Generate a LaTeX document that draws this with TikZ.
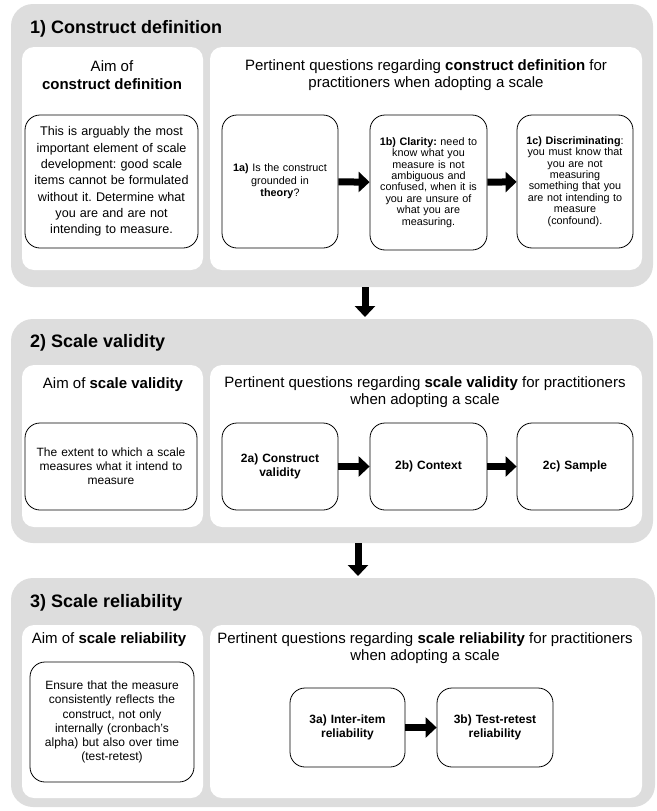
\documentclass[tikz,border=0pt]{standalone}
\usepackage{fontspec}
\setmainfont{Liberation Sans}
\usetikzlibrary{arrows.meta}
\frenchspacing

\tikzstyle{stage}= [rectangle,fill=gray!27,rounded corners=22pt,inner sep=0pt]
\tikzstyle{sheet}= [rectangle,fill=white,rounded corners=12pt,inner sep=0pt]
\tikzstyle{item}= [rectangle,draw,black,line width=0.8pt,rounded corners=15pt,fill=white,align=center,inner sep=0pt]
\tikzstyle{title}= [anchor=west,inner sep=0pt,font=\fontsize{18}{21}\selectfont\bfseries]
\tikzstyle{head}= [align=center,inner sep=0pt,font=\fontsize{15}{17.5}\selectfont]
\tikzstyle{flow}= [black,line width=7pt,-{Triangle[width=20pt,length=11pt]}]

\begin{document}
\begin{tikzpicture}[x=1pt,y=-1pt]
	\useasboundingbox (0,0) rectangle (656,811);

		% 1) construct definition
		\node (s1) at (332,145.5) [stage,minimum width=642pt,minimum height=283pt] {};
		\node (t1) at (30,29) [title] {1) Construct definition};
		\node (l1) at (112.5,158.5) [sheet,minimum width=181pt,minimum height=223pt] {};
		\node (r1) at (426,158.5) [sheet,minimum width=432pt,minimum height=223pt] {};
		\node (hl1) at (112,75) [head] {Aim of\\\textbf{construct definition}};
		\node (hr1) at (426,75) [head] {Pertinent questions regarding \textbf{construct definition} for\\practitioners when adopting a scale};

		\node (aim1) at (111.5,181.5) [item,text width=173pt,minimum height=133pt,font=\fontsize{12.6}{16.3}\selectfont] {This is arguably the most\\important element of scale\\development: good scale\\items cannot be formulated\\without it. Determine what\\you are and are not\\intending to measure.};
		\node (a) at (280,181.5) [item,text width=116pt,minimum height=133pt,font=\fontsize{10.8}{12.5}\selectfont] {\textbf{1a)} Is the construct\\grounded in\\\textbf{theory}?};
		\node (b) at (428.5,182.5) [item,text width=117pt,minimum height=135pt,font=\fontsize{10.8}{11.4}\selectfont] {\textbf{1b) Clarity:} need to\\know what you\\measure is not\\ambiguous and\\confused, when it is\\you are unsure of\\what you are\\measuring.};
		\node (c) at (575,181.5) [item,text width=116pt,minimum height=133pt,font=\fontsize{10.8}{11.4}\selectfont] {\textbf{1c) Discriminating}:\\you must know that\\you are not\\measuring\\something that you\\are not intending to\\measure\\(confound).};

		% 2) scale validity
		\node (s2) at (332,431) [stage,minimum width=642pt,minimum height=224pt] {};
		\node (t2) at (30,343) [title] {2) Scale validity};
		\node (l2) at (112.5,446) [sheet,minimum width=181pt,minimum height=162pt] {};
		\node (r2) at (426,446) [sheet,minimum width=432pt,minimum height=162pt] {};
		\node (hl2) at (113,385) [head] {Aim of \textbf{scale validity}};
		\node (hr2) at (425,392) [head] {Pertinent questions regarding \textbf{scale validity} for practitioners\\when adopting a scale};

		\node (aim2) at (111,466.5) [item,text width=172pt,minimum height=87pt,font=\fontsize{12}{14}\selectfont] {The extent to which a scale\\measures what it intend to\\measure};
		\node (d) at (280,466.5) [item,text width=116pt,minimum height=87pt,font=\fontsize{12}{14.3}\selectfont\bfseries] {2a) Construct\\validity};
		\node (e) at (428.5,466.5) [item,text width=117pt,minimum height=87pt,font=\fontsize{12}{14.3}\selectfont\bfseries] {2b) Context};
		\node (f) at (575,466.5) [item,text width=116pt,minimum height=87pt,font=\fontsize{12}{14.3}\selectfont\bfseries] {2c) Sample};

		% 3) scale reliability
		\node (s3) at (333,692.5) [stage,minimum width=644pt,minimum height=229pt] {};
		\node (t3) at (30,603) [title] {3) Scale reliability};
		\node (l3) at (112.5,711.5) [sheet,minimum width=181pt,minimum height=173pt] {};
		\node (r3) at (426,711.5) [sheet,minimum width=432pt,minimum height=173pt] {};
		\node (hl3) at (109,640) [head] {Aim of \textbf{scale reliability}};
		\node (hr3) at (425,648) [head] {Pertinent questions regarding \textbf{scale reliability} for practitioners\\when adopting a scale};

		\node (aim3) at (112,722) [item,text width=164pt,minimum height=120pt,font=\fontsize{12}{14.2}\selectfont] {Ensure that the measure\\consistently reflects the\\construct, not only\\internally (cronbach's\\alpha) but also over time\\(test-retest)};
		\node (g) at (347.5,727.5) [item,text width=115pt,minimum height=79pt,font=\fontsize{12}{14.3}\selectfont\bfseries] {3a) Inter-item\\reliability};
		\node (h) at (495,727.5) [item,text width=116pt,minimum height=79pt,font=\fontsize{12}{14.3}\selectfont\bfseries] {3b) Test-retest\\reliability};

		% arrows
		\coordinate (v1) at (365,287);
		\coordinate (v2) at (365,317);
		\coordinate (v3) at (358,543);
		\coordinate (v4) at (358,576);

		\path[flow] (a) edge[] node {} (b);
		\path[flow] (b) edge[] node {} (c);
		\path[flow] (d) edge[] node {} (e);
		\path[flow] (e) edge[] node {} (f);
		\path[flow] (g) edge[] node {} (h);
		\path[flow] (v1) edge[] node {} (v2);
		\path[flow] (v3) edge[] node {} (v4);

	\end{tikzpicture}
\end{document}
